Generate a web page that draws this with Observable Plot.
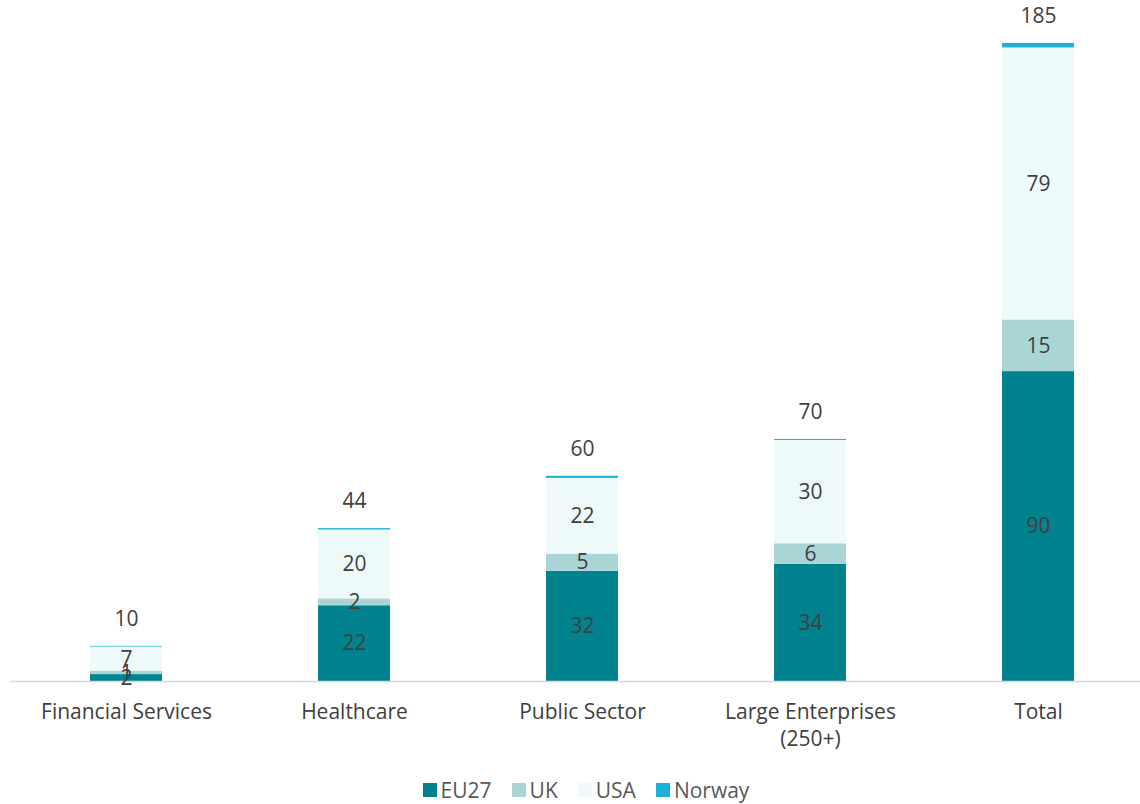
<!DOCTYPE html>
<html>
<head>
<meta charset="utf-8">
<script src="https://cdn.jsdelivr.net/npm/d3@7"></script>
<script src="https://cdn.jsdelivr.net/npm/@observablehq/plot@0.6"></script>
<style>
  html, body { margin: 0; padding: 0; background: #fff; }
  #chart { width: 1140px; }
  .legend { display: flex; justify-content: center; align-items: center; gap: 20px; height: 26px;
    line-height: 26px; padding-left: 32px; width: 1108px;
    font-family: "Open Sans", Lato, sans-serif; font-size: 21px; color: #595959; }
  .legend span.item { display: flex; align-items: center; gap: 4px; }
  .legend span.sw { width: 14px; height: 14px; display: inline-block; }
</style>
</head>
<body>
<div id="chart"></div>
<script>
const categories = ["Financial Services", "Healthcare", "Public Sector", "Large Enterprises\n(250+)", "Total"];
const seriesNames = ["EU27", "UK", "USA", "Norway"];
const eu27 = [2, 22, 32, 34, 90];
const uk = [1, 2, 5, 6, 15];
const usa = [7, 20, 22, 30, 79];
const norway = [0.2, 0.4, 0.6, 0.3, 1.3];
const totals = [10, 44, 60, 70, 185];
const colors = ["#00838F", "#A9D5D6", "#EEF9FA", "#1FB0D6"];

const seriesValues = [eu27, uk, usa, norway];
const rows = [];
categories.forEach((c, i) => {
  seriesNames.forEach((s, j) => rows.push({cat: c, series: s, value: seriesValues[j][i]}));
});
const totalRows = categories.map((c, i) => ({
  cat: c, label: totals[i], top: seriesValues.reduce((a, arr) => a + arr[i], 0)
}));

const font = "'Open Sans', Lato, sans-serif";
const plot = Plot.plot({
  width: 1140,
  height: 777,
  marginLeft: 10,
  marginRight: 0,
  marginTop: 0,
  marginBottom: 96,
  style: {fontFamily: font, fontSize: "21px", color: "#404040", background: "#fff"},
  x: {domain: categories, range: [11, 1153], paddingInner: 0.684, paddingOuter: 0.342, label: null},
  y: {domain: [0, 185], range: [681, 44], axis: null},
  color: {domain: seriesNames, range: colors},
  marks: [
    Plot.barY(rows, {x: "cat", y: "value", z: "series", fill: "series", order: seriesNames}),
    Plot.ruleY([0], {stroke: "#d9d9d9", strokeWidth: 1.5}),
    Plot.text(rows, Plot.stackY({
      x: "cat", y: "value", z: "series", order: seriesNames,
      text: d => d.series === "Norway" ? "" : String(d.value),
      fill: "#404040", fontSize: 21
    })),
    Plot.text(totalRows, {x: "cat", y: "top", text: d => String(d.label), dy: -27, fill: "#404040", fontSize: 21}),
    Plot.axisX({tickSize: 0, tickPadding: 18, fontSize: 21, lineHeight: 1.3, fill: "#404040", label: null})
  ]
});
document.getElementById("chart").appendChild(plot);

const legend = document.createElement("div");
legend.className = "legend";
seriesNames.forEach((s, i) => {
  const item = document.createElement("span");
  item.className = "item";
  const sw = document.createElement("span");
  sw.className = "sw";
  sw.style.background = colors[i];
  item.appendChild(sw);
  item.appendChild(document.createTextNode(s));
  legend.appendChild(item);
});
document.body.appendChild(legend);
</script>
</body>
</html>
